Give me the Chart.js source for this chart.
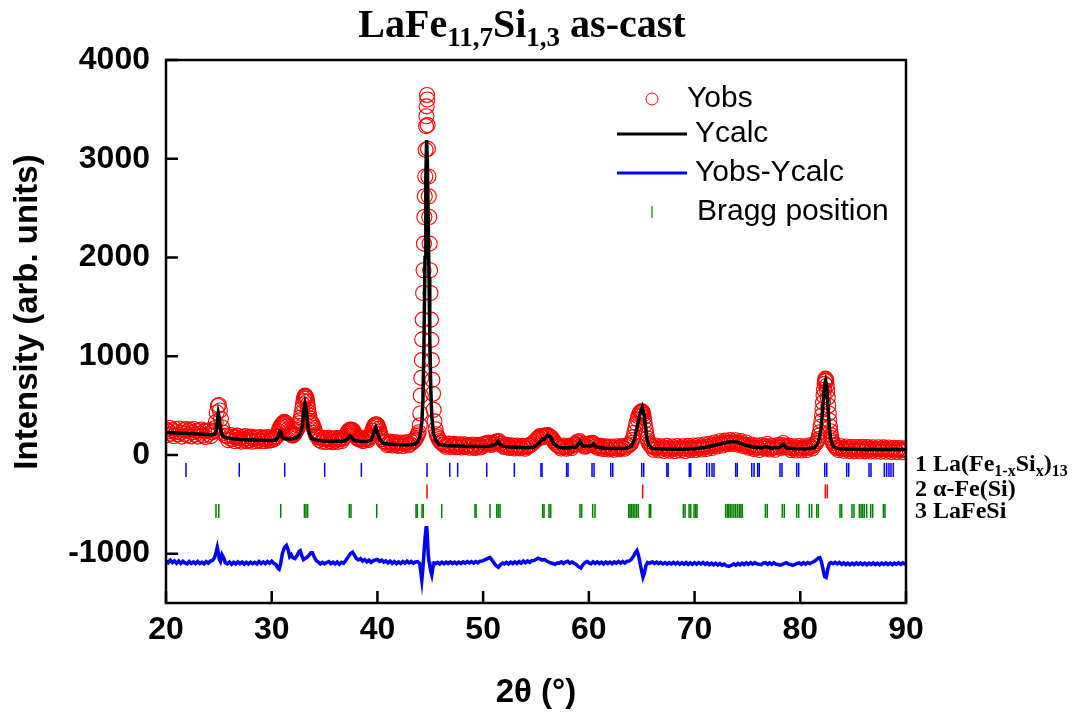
<!DOCTYPE html>
<html>
<head>
<meta charset="utf-8">
<title>LaFe11,7Si1,3 as-cast</title>
<script src="https://cdn.jsdelivr.net/npm/chart.js@4.4.1/dist/chart.umd.min.js"></script>
<style>
  html, body { margin: 0; padding: 0; background: #fff; }
  canvas { display: block; }
</style>
</head>
<body>
<canvas id="xrdChart" width="1083" height="713"></canvas>
<script>
// axis ticks
const xTicks = [20, 30, 40, 50, 60, 70, 80, 90];
const yTicks = [-1000, 0, 1000, 2000, 3000, 4000];

// observed intensity, [2theta, counts]
const yObs = [
  [20.0, 255], [20.125, 200], [20.25, 238], [20.375, 272], [20.5, 215], [20.625, 250], [20.75, 190], [20.875, 262],
  [21.0, 232], [21.125, 205], [21.25, 268], [21.375, 225], [21.5, 185], [21.625, 250], [21.75, 214], [21.875, 262],
  [22.0, 198], [22.125, 240], [22.25, 258], [22.375, 188], [22.5, 230], [22.625, 262], [22.75, 205], [22.875, 242],
  [23.0, 185], [23.125, 250], [23.25, 215], [23.375, 258], [23.5, 195], [23.625, 238], [23.75, 182], [23.875, 245],
  [24.0, 210], [24.125, 250], [24.25, 190], [24.375, 228], [24.5, 245], [24.6, 270], [24.7, 330], [24.8, 430],
  [24.9, 495], [25.0, 505], [25.1, 450], [25.2, 365], [25.3, 280], [25.45, 225], [25.6, 195], [25.75, 190],
  [25.875, 150], [26.0, 172], [26.125, 200], [26.25, 158], [26.375, 185], [26.5, 140], [26.625, 178], [26.75, 195],
  [26.875, 150], [27.0, 168], [27.125, 135], [27.25, 182], [27.375, 155], [27.5, 190], [27.625, 140], [27.75, 170],
  [27.875, 150], [28.0, 185], [28.125, 135], [28.25, 165], [28.375, 178], [28.5, 140], [28.625, 172], [28.75, 150],
  [28.875, 180], [29.0, 138], [29.125, 165], [29.25, 175], [29.375, 140], [29.5, 160], [29.625, 182], [29.75, 145],
  [29.875, 170], [30.0, 150], [30.125, 175], [30.25, 160], [30.375, 185], [30.5, 190], [30.575, 215], [30.65, 240],
  [30.725, 265], [30.8, 280], [30.875, 295], [30.95, 300], [31.025, 315], [31.1, 320], [31.175, 335], [31.25, 330],
  [31.325, 325], [31.4, 310], [31.475, 290], [31.55, 260], [31.625, 240], [31.7, 220], [31.775, 210], [31.85, 200],
  [31.925, 215], [32.0, 195], [32.075, 205], [32.15, 210], [32.225, 230], [32.3, 240], [32.375, 255], [32.45, 270],
  [32.525, 295], [32.6, 320], [32.675, 350], [32.75, 380], [32.825, 425], [32.9, 470], [32.95, 510], [33.0, 545],
  [33.05, 570], [33.1, 590], [33.15, 600], [33.2, 597], [33.25, 585], [33.3, 570], [33.35, 540], [33.4, 510],
  [33.45, 470], [33.5, 430], [33.55, 400], [33.6, 370], [33.675, 345], [33.75, 330], [33.825, 315], [33.9, 300],
  [33.975, 275], [34.05, 250], [34.125, 225], [34.2, 200], [34.3, 185], [34.4, 175], [34.5, 150], [34.625, 175],
  [34.75, 135], [34.875, 160], [35.0, 170], [35.125, 130], [35.25, 155], [35.375, 175], [35.5, 138], [35.625, 160],
  [35.75, 128], [35.875, 165], [36.0, 145], [36.125, 172], [36.25, 132], [36.375, 158], [36.5, 170], [36.625, 140],
  [36.75, 165], [36.875, 180], [37.0, 195], [37.1, 215], [37.2, 230], [37.275, 245], [37.35, 250], [37.425, 258],
  [37.5, 255], [37.575, 255], [37.65, 250], [37.725, 240], [37.8, 225], [37.875, 210], [37.95, 195], [38.025, 180],
  [38.1, 170], [38.2, 160], [38.3, 155], [38.4, 172], [38.5, 165], [38.625, 140], [38.75, 145], [38.875, 170],
  [39.0, 160], [39.125, 150], [39.25, 175], [39.35, 195], [39.45, 220], [39.525, 245], [39.6, 270], [39.675, 290],
  [39.75, 300], [39.825, 308], [39.9, 311], [39.975, 305], [40.05, 290], [40.125, 265], [40.2, 240], [40.275, 210],
  [40.35, 180], [40.45, 160], [40.55, 140], [40.675, 130], [40.8, 125], [40.925, 100], [41.05, 110], [41.175, 135],
  [41.3, 122], [41.425, 95], [41.55, 105], [41.675, 130], [41.8, 118], [41.925, 92], [42.05, 100], [42.175, 125],
  [42.3, 115], [42.425, 90], [42.55, 108], [42.675, 128], [42.8, 120], [42.925, 95], [43.05, 110], [43.175, 135],
  [43.3, 125], [43.425, 140], [43.55, 150], [43.65, 170], [43.75, 190], [43.825, 210], [43.9, 230], [44.0, 300],
  [44.05, 420], [44.1, 600], [44.15, 780], [44.2, 960], [44.24, 1170], [44.28, 1370], [44.32, 1640], [44.36, 1870],
  [44.4, 2140], [44.44, 2410], [44.48, 2620], [44.52, 2820], [44.56, 3090], [44.6, 3330], [44.63, 3430], [44.66, 3530],
  [44.69, 3646], [44.72, 3600], [44.75, 3340], [44.78, 3100], [44.82, 2820], [44.86, 2620], [44.9, 2410], [44.94, 2140],
  [44.98, 1870], [45.02, 1640], [45.06, 1370], [45.1, 1165], [45.15, 960], [45.2, 760], [45.26, 620], [45.32, 456],
  [45.4, 340], [45.5, 260], [45.6, 210], [45.7, 180], [45.8, 160], [45.9, 140], [46.0, 128], [46.1, 120],
  [46.225, 108], [46.35, 105], [46.475, 82], [46.6, 92], [46.725, 115], [46.85, 110], [46.975, 80], [47.1, 90],
  [47.225, 112], [47.35, 100], [47.475, 78], [47.6, 85], [47.725, 108], [47.85, 105], [47.975, 75], [48.1, 90],
  [48.225, 108], [48.35, 80], [48.475, 95], [48.6, 98], [48.725, 72], [48.85, 85], [48.975, 105], [49.1, 95],
  [49.225, 70], [49.35, 80], [49.475, 102], [49.6, 92], [49.725, 75], [49.85, 85], [49.975, 108], [50.1, 100],
  [50.225, 118], [50.35, 110], [50.475, 125], [50.6, 120], [50.725, 100], [50.85, 105], [50.975, 122], [51.1, 115],
  [51.225, 135], [51.35, 130], [51.475, 140], [51.6, 110], [51.725, 118], [51.85, 95], [51.975, 80], [52.1, 85],
  [52.225, 102], [52.35, 95], [52.475, 70], [52.6, 78], [52.725, 98], [52.85, 88], [52.975, 65], [53.1, 75],
  [53.225, 95], [53.35, 85], [53.475, 66], [53.6, 72], [53.725, 92], [53.85, 82], [53.975, 62], [54.1, 78],
  [54.225, 95], [54.35, 90], [54.475, 100], [54.6, 110], [54.8, 130], [55.0, 150], [55.125, 165], [55.25, 175],
  [55.375, 192], [55.5, 190], [55.625, 178], [55.75, 185], [55.875, 198], [56.0, 195], [56.125, 200], [56.25, 190],
  [56.375, 182], [56.5, 170], [56.625, 150], [56.75, 130], [56.875, 112], [57.0, 100], [57.125, 92], [57.25, 85],
  [57.375, 65], [57.5, 78], [57.625, 95], [57.75, 88], [57.875, 62], [58.0, 75], [58.125, 92], [58.25, 85],
  [58.375, 70], [58.5, 95], [58.625, 105], [58.75, 110], [58.875, 130], [59.0, 125], [59.125, 140], [59.25, 120],
  [59.375, 105], [59.5, 100], [59.625, 82], [59.75, 90], [59.875, 108], [60.0, 100], [60.125, 118], [60.25, 110],
  [60.375, 122], [60.5, 105], [60.625, 85], [60.75, 90], [60.875, 70], [61.0, 80], [61.125, 92], [61.25, 72],
  [61.375, 60], [61.5, 80], [61.625, 88], [61.75, 70], [61.875, 55], [62.0, 78], [62.125, 85], [62.25, 68],
  [62.375, 52], [62.5, 75], [62.625, 88], [62.75, 70], [62.875, 58], [63.0, 78], [63.125, 90], [63.25, 72],
  [63.375, 62], [63.5, 82], [63.625, 98], [63.75, 95], [63.875, 105], [64.0, 120], [64.1, 150], [64.2, 180],
  [64.3, 225], [64.4, 270], [64.5, 320], [64.6, 360], [64.675, 390], [64.75, 410], [64.825, 425], [64.9, 435],
  [64.95, 440], [65.0, 442], [65.05, 438], [65.1, 430], [65.15, 410], [65.2, 380], [65.25, 340], [65.3, 300],
  [65.375, 255], [65.45, 210], [65.525, 170], [65.6, 140], [65.7, 115], [65.8, 100], [65.9, 90], [66.0, 80],
  [66.125, 52], [66.25, 70], [66.375, 95], [66.5, 78], [66.625, 45], [66.75, 65], [66.875, 88], [67.0, 72],
  [67.125, 40], [67.25, 62], [67.375, 92], [67.5, 70], [67.625, 42], [67.75, 60], [67.875, 85], [68.0, 68],
  [68.125, 38], [68.25, 62], [68.375, 90], [68.5, 72], [68.625, 45], [68.75, 64], [68.875, 88], [69.0, 70],
  [69.125, 40], [69.25, 62], [69.375, 92], [69.5, 72], [69.625, 48], [69.75, 66], [69.875, 95], [70.0, 74],
  [70.125, 50], [70.25, 68], [70.375, 98], [70.5, 78], [70.625, 55], [70.75, 75], [70.875, 105], [71.0, 85],
  [71.125, 60], [71.25, 82], [71.375, 112], [71.5, 92], [71.625, 70], [71.75, 98], [71.875, 125], [72.0, 105],
  [72.125, 85], [72.25, 110], [72.375, 138], [72.5, 115], [72.625, 95], [72.75, 120], [72.875, 145], [73.0, 125],
  [73.125, 108], [73.25, 122], [73.375, 150], [73.5, 128], [73.625, 110], [73.75, 125], [73.875, 148], [74.0, 122],
  [74.125, 102], [74.25, 118], [74.375, 140], [74.5, 110], [74.625, 90], [74.75, 100], [74.875, 125], [75.0, 95],
  [75.125, 72], [75.25, 85], [75.375, 105], [75.5, 80], [75.625, 60], [75.75, 75], [75.875, 95], [76.0, 72],
  [76.125, 50], [76.25, 78], [76.375, 100], [76.5, 85], [76.625, 65], [76.75, 90], [76.875, 110], [77.0, 78],
  [77.125, 55], [77.25, 70], [77.375, 92], [77.5, 75], [77.625, 52], [77.75, 80], [77.875, 100], [78.0, 88],
  [78.125, 70], [78.25, 100], [78.375, 120], [78.5, 95], [78.625, 75], [78.75, 80], [78.875, 95], [79.0, 72],
  [79.125, 48], [79.25, 66], [79.375, 88], [79.5, 72], [79.625, 45], [79.75, 65], [79.875, 90], [80.0, 70],
  [80.125, 45], [80.25, 64], [80.375, 88], [80.5, 70], [80.625, 50], [80.75, 75], [80.875, 98], [81.0, 80],
  [81.125, 65], [81.25, 95], [81.375, 110], [81.5, 120], [81.6, 140], [81.7, 160], [81.775, 195], [81.85, 230],
  [81.925, 285], [82.0, 340], [82.05, 400], [82.1, 460], [82.15, 530], [82.2, 600], [82.25, 660], [82.3, 720],
  [82.34, 750], [82.38, 773], [82.42, 765], [82.46, 750], [82.5, 700], [82.55, 650], [82.6, 580], [82.65, 500],
  [82.7, 420], [82.75, 350], [82.8, 290], [82.85, 240], [82.9, 200], [82.95, 170], [83.025, 140], [83.1, 120],
  [83.2, 100], [83.3, 90], [83.4, 70], [83.5, 78], [83.625, 50], [83.75, 70], [83.875, 88], [84.0, 62],
  [84.125, 42], [84.25, 70], [84.375, 85], [84.5, 60], [84.625, 40], [84.75, 66], [84.875, 82], [85.0, 58],
  [85.125, 38], [85.25, 65], [85.375, 80], [85.5, 60], [85.625, 40], [85.75, 68], [85.875, 82], [86.0, 58],
  [86.125, 36], [86.25, 64], [86.375, 80], [86.5, 56], [86.625, 35], [86.75, 62], [86.875, 78], [87.0, 55],
  [87.125, 34], [87.25, 63], [87.375, 78], [87.5, 57], [87.625, 33], [87.75, 62], [87.875, 76], [88.0, 55],
  [88.125, 32], [88.25, 60], [88.375, 75], [88.5, 52], [88.625, 30], [88.75, 58], [88.875, 72], [89.0, 50],
  [89.125, 28], [89.25, 56], [89.375, 70], [89.5, 48], [89.625, 28], [89.75, 54], [89.875, 68], [90.0, 50]
];

// calculated profile, [2theta, counts]
const yCalc = [
  [20.0, 226], [20.5, 224], [21.0, 222], [21.5, 220], [22.0, 218], [22.5, 215], [23.0, 212], [23.5, 209],
  [24.0, 206], [24.4, 205], [24.6, 212], [24.75, 245], [24.85, 330], [24.95, 420], [25.05, 370], [25.15, 270],
  [25.3, 200], [25.5, 180], [26.0, 168], [26.5, 160], [27.0, 156], [28.0, 151], [29.0, 148], [30.0, 146],
  [30.4, 150], [30.6, 180], [30.75, 240], [30.85, 235], [31.0, 180], [31.2, 163], [31.6, 160], [32.0, 165],
  [32.4, 178], [32.7, 210], [32.9, 300], [33.05, 460], [33.15, 522], [33.25, 470], [33.4, 320], [33.55, 220],
  [33.8, 165], [34.2, 150], [35.0, 142], [36.0, 138], [36.8, 138], [37.2, 160], [37.4, 192], [37.55, 180],
  [37.8, 148], [38.3, 136], [39.0, 135], [39.4, 150], [39.65, 220], [39.85, 277], [40.0, 230], [40.2, 160],
  [40.5, 120], [41.0, 110], [42.0, 103], [43.0, 100], [43.5, 108], [43.8, 130], [44.0, 180], [44.2, 330],
  [44.3, 550], [44.4, 1100], [44.5, 2000], [44.58, 2800], [44.65, 3190], [44.72, 3000], [44.8, 2400], [44.88, 1800],
  [44.95, 1200], [45.05, 650], [45.15, 380], [45.3, 220], [45.5, 150], [45.8, 110], [46.5, 95], [47.0, 92],
  [48.0, 88], [49.0, 86], [50.0, 84], [50.6, 88], [51.2, 105], [51.43, 140], [51.6, 105], [52.0, 85],
  [53.0, 78], [54.0, 72], [54.8, 78], [55.3, 120], [55.6, 165], [55.8, 160], [56.1, 200], [56.35, 185],
  [56.7, 110], [57.2, 75], [58.0, 70], [58.8, 80], [59.17, 135], [59.4, 90], [60.2, 90], [60.43, 112],
  [60.7, 80], [61.5, 68], [62.5, 66], [63.5, 68], [64.0, 85], [64.3, 150], [64.6, 300], [64.85, 422],
  [65.05, 483], [65.2, 420], [65.35, 300], [65.5, 160], [65.65, 100], [66.0, 65], [67.0, 60], [68.0, 58],
  [69.0, 58], [70.0, 62], [71.0, 75], [71.8, 95], [72.6, 115], [73.2, 130], [73.7, 135], [74.2, 125],
  [74.8, 100], [75.5, 80], [76.3, 70], [76.8, 85], [77.2, 68], [78.0, 75], [78.4, 108], [78.7, 70],
  [79.5, 62], [80.5, 60], [81.3, 72], [81.7, 120], [81.95, 260], [82.15, 520], [82.3, 710], [82.4, 753],
  [82.5, 700], [82.65, 420], [82.85, 170], [83.1, 90], [83.5, 65], [84.5, 58], [86.0, 56], [87.5, 55],
  [89.0, 55], [90.0, 56]
];

// difference curve (plotted with its offset), [2theta, counts]
const yDiff = [
  [20.0, -1075], [20.2, -1092], [20.4, -1066], [20.6, -1090], [20.8, -1074], [21.0, -1098], [21.2, -1076], [21.4, -1100],
  [21.6, -1078], [21.8, -1094], [22.0, -1104], [22.2, -1080], [22.4, -1100], [22.6, -1084], [22.8, -1102], [23.0, -1080],
  [23.2, -1100], [23.4, -1086], [23.6, -1104], [23.8, -1080], [24.0, -1096], [24.2, -1076], [24.4, -1070], [24.6, -1040],
  [24.75, -980], [24.85, -935], [24.95, -990], [25.05, -1060], [25.15, -1080], [25.3, -1010], [25.45, -1040], [25.6, -1090],
  [25.8, -1104], [26.0, -1086], [26.2, -1108], [26.4, -1088], [26.6, -1104], [26.8, -1084], [27.0, -1102], [27.2, -1086],
  [27.4, -1106], [27.6, -1088], [27.8, -1104], [28.0, -1086], [28.2, -1102], [28.4, -1088], [28.6, -1104], [28.8, -1080],
  [29.0, -1100], [29.2, -1084], [29.4, -1102], [29.6, -1080], [29.8, -1096], [30.0, -1076], [30.2, -1098], [30.4, -1110],
  [30.6, -1150], [30.7, -1158], [30.85, -1100], [31.0, -1000], [31.2, -940], [31.4, -918], [31.55, -960], [31.7, -1030],
  [31.85, -1010], [32.0, -1040], [32.2, -1050], [32.4, -1020], [32.6, -975], [32.7, -969], [32.85, -1020], [33.0, -1060],
  [33.15, -1050], [33.3, -1040], [33.5, -1020], [33.7, -990], [33.85, -990], [34.0, -1030], [34.2, -1070], [34.4, -1085],
  [34.6, -1104], [34.8, -1088], [35.0, -1104], [35.2, -1090], [35.4, -1080], [35.6, -1102], [35.8, -1086], [36.0, -1104],
  [36.2, -1084], [36.4, -1108], [36.6, -1088], [36.8, -1098], [37.0, -1070], [37.2, -1040], [37.45, -1000], [37.65, -986],
  [37.85, -1020], [38.0, -1050], [38.2, -1064], [38.4, -1050], [38.6, -1076], [38.8, -1060], [39.0, -1084], [39.2, -1066],
  [39.4, -1088], [39.6, -1072], [39.8, -1064], [40.0, -1058], [40.2, -1078], [40.4, -1066], [40.6, -1086], [40.8, -1074],
  [41.0, -1094], [41.2, -1076], [41.4, -1098], [41.6, -1080], [41.8, -1102], [42.0, -1084], [42.2, -1100], [42.4, -1080],
  [42.6, -1096], [42.8, -1076], [43.0, -1094], [43.2, -1080], [43.4, -1098], [43.6, -1084], [43.8, -1080], [44.0, -1100],
  [44.1, -1180], [44.2, -1266], [44.3, -1150], [44.4, -1000], [44.5, -850], [44.6, -740], [44.66, -720], [44.72, -820],
  [44.8, -1000], [44.88, -1080], [44.95, -1120], [45.05, -1180], [45.14, -1215], [45.25, -1140], [45.35, -1095], [45.5, -1100],
  [45.7, -1088], [45.9, -1104], [46.1, -1086], [46.3, -1102], [46.5, -1086], [46.7, -1100], [46.9, -1084], [47.1, -1100],
  [47.3, -1086], [47.5, -1102], [47.7, -1086], [47.9, -1100], [48.1, -1084], [48.3, -1096], [48.5, -1080], [48.7, -1094],
  [48.9, -1080], [49.1, -1096], [49.3, -1080], [49.5, -1094], [49.7, -1076], [49.9, -1075], [50.1, -1065], [50.3, -1055],
  [50.5, -1045], [50.65, -1040], [50.8, -1060], [51.0, -1090], [51.2, -1120], [51.45, -1138], [51.65, -1110], [51.85, -1095],
  [52.0, -1104], [52.2, -1088], [52.4, -1104], [52.6, -1086], [52.8, -1100], [53.0, -1084], [53.2, -1100], [53.4, -1080],
  [53.6, -1096], [53.8, -1076], [54.0, -1092], [54.2, -1074], [54.4, -1088], [54.6, -1072], [54.8, -1070], [55.0, -1060],
  [55.2, -1046], [55.4, -1055], [55.6, -1065], [55.8, -1060], [56.0, -1075], [56.2, -1085], [56.4, -1095], [56.6, -1100],
  [56.8, -1108], [57.0, -1095], [57.2, -1096], [57.4, -1084], [57.6, -1100], [57.8, -1086], [58.0, -1078], [58.2, -1096],
  [58.4, -1084], [58.6, -1098], [58.8, -1110], [59.0, -1130], [59.25, -1147], [59.45, -1110], [59.65, -1090], [59.85, -1080],
  [60.0, -1094], [60.2, -1102], [60.4, -1082], [60.6, -1100], [60.8, -1084], [61.0, -1100], [61.2, -1086], [61.4, -1104],
  [61.6, -1084], [61.8, -1100], [62.0, -1086], [62.2, -1102], [62.4, -1084], [62.6, -1098], [62.8, -1080], [63.0, -1096],
  [63.2, -1080], [63.4, -1096], [63.6, -1078], [63.8, -1075], [64.0, -1060], [64.2, -1030], [64.4, -990], [64.55, -969],
  [64.7, -1020], [64.85, -1100], [65.0, -1180], [65.12, -1239], [65.25, -1200], [65.4, -1120], [65.55, -1090], [65.75, -1098],
  [66.0, -1084], [66.2, -1100], [66.4, -1086], [66.6, -1102], [66.8, -1088], [67.0, -1104], [67.2, -1090], [67.4, -1106],
  [67.6, -1090], [67.8, -1104], [68.0, -1088], [68.2, -1104], [68.4, -1090], [68.6, -1108], [68.8, -1092], [69.0, -1106],
  [69.2, -1090], [69.4, -1110], [69.6, -1094], [69.8, -1108], [70.0, -1092], [70.2, -1106], [70.4, -1090], [70.6, -1104],
  [70.8, -1090], [71.0, -1108], [71.2, -1094], [71.4, -1112], [71.6, -1096], [71.8, -1114], [72.0, -1098], [72.2, -1116],
  [72.4, -1100], [72.6, -1118], [72.8, -1106], [73.0, -1122], [73.25, -1130], [73.5, -1118], [73.7, -1104], [73.9, -1118],
  [74.1, -1100], [74.3, -1114], [74.5, -1096], [74.7, -1110], [74.9, -1094], [75.1, -1108], [75.3, -1092], [75.5, -1106],
  [75.7, -1090], [75.9, -1104], [76.1, -1108], [76.3, -1112], [76.5, -1096], [76.7, -1092], [76.9, -1108], [77.1, -1094],
  [77.3, -1108], [77.5, -1092], [77.7, -1106], [77.9, -1110], [78.1, -1116], [78.3, -1108], [78.5, -1100], [78.7, -1092],
  [78.9, -1106], [79.1, -1110], [79.3, -1118], [79.5, -1110], [79.7, -1100], [79.9, -1094], [80.1, -1108], [80.3, -1092],
  [80.5, -1106], [80.7, -1090], [80.9, -1100], [81.1, -1090], [81.3, -1080], [81.5, -1065], [81.7, -1045], [81.85, -1040],
  [82.0, -1080], [82.15, -1160], [82.3, -1232], [82.45, -1240], [82.6, -1160], [82.75, -1100], [82.9, -1090], [83.1, -1102],
  [83.3, -1088], [83.5, -1104], [83.7, -1090], [83.9, -1108], [84.1, -1094], [84.3, -1110], [84.5, -1096], [84.7, -1112],
  [84.9, -1096], [85.1, -1110], [85.3, -1094], [85.5, -1108], [85.7, -1093], [85.9, -1110], [86.1, -1096], [86.3, -1112],
  [86.5, -1096], [86.7, -1110], [86.9, -1094], [87.1, -1110], [87.3, -1096], [87.5, -1112], [87.7, -1096], [87.9, -1109],
  [88.1, -1094], [88.3, -1110], [88.5, -1096], [88.7, -1112], [88.9, -1096], [89.1, -1108], [89.3, -1092], [89.5, -1108],
  [89.7, -1094], [89.9, -1106], [90.0, -1100]
];

// Bragg reflections (2theta) of the three phases
const braggPhase1 = [21.89, 26.93, 31.23, 35.01, 38.48, 44.69, 46.84, 47.59, 50.34, 52.95, 55.47, 55.57, 57.9, 58.03,
  60.3, 60.49, 62.07, 62.26, 65.0, 65.19, 67.38, 67.5, 69.5, 69.64, 71.15, 71.4, 71.65, 71.84, 73.89, 74.04,
  75.41, 75.63, 75.97, 76.12, 78.08, 78.27, 79.66, 79.85, 82.31, 82.5, 84.39, 84.58, 86.5, 86.69, 87.95, 88.17,
  88.39, 88.58, 88.8];
const braggPhase2 = [44.69, 65.09, 82.37, 82.56];
const braggPhase3 = [24.73, 24.99, 30.85, 33.09, 33.24, 33.4, 37.34, 37.5, 39.93, 43.65, 43.77, 44.22, 44.34, 46.08,
  49.23, 49.33, 50.65, 51.28, 51.43, 51.6, 55.63, 55.76, 56.23, 56.39, 59.16, 59.32, 60.36, 60.58, 63.77, 63.9,
  64.05, 64.2, 64.36, 64.52, 64.68, 65.72, 65.85, 68.94, 69.1, 69.48, 69.64, 69.95, 70.11, 70.23, 72.94, 73.1,
  73.23, 73.38, 73.54, 73.72, 73.89, 74.06, 74.23, 74.38, 74.52, 76.7, 76.88, 78.3, 78.49, 79.66, 79.85, 80.86,
  81.08, 81.55, 81.71, 83.76, 83.91, 84.89, 85.08, 85.59, 85.75, 85.9, 86.06, 86.28, 86.66, 86.85, 87.86, 88.01];
const braggRows = [-152, -370, -567];
const phaseNames = [
  [["1 La(Fe"], ["1-x", 1], ["Si"], ["x", 1], [")"], ["13", 1]],
  [["2 \u03b1-Fe(Si)"]],
  [["3 LaFeSi"]]
];

const SANS = "'Liberation Sans', Arial, sans-serif";
const SERIF = "'Liberation Serif', 'Times New Roman', serif";

const toXY = arr => arr.map(p => ({ x: p[0], y: p[1] }));
const braggSet = (list, row, color) => ({
  data: list.map(v => ({ x: v, y: braggRows[row] })),
  showLine: false,
  pointStyle: "line",
  pointRotation: 90,
  pointRadius: 7,
  pointBorderWidth: 1.5,
  pointBorderColor: color,
  order: 1
});

// text with subscripts, parts = [[text, isSub], ...]
function drawRich(ctx, parts, x, y, size, family, align) {
  const subSize = Math.round(size * 0.68);
  const fontFor = p => "bold " + (p[1] ? subSize : size) + "px " + family;
  let w = 0;
  parts.forEach(p => { ctx.font = fontFor(p); w += ctx.measureText(p[0]).width; });
  let cx = align === "center" ? x - w / 2 : x;
  ctx.textAlign = "left";
  ctx.textBaseline = "alphabetic";
  parts.forEach(p => {
    ctx.font = fontFor(p);
    ctx.fillText(p[0], cx, p[1] ? y + size * 0.22 : y);
    cx += ctx.measureText(p[0]).width;
  });
}

const decorations = {
  id: "decorations",
  afterDatasetsDraw(chart) {
    const { ctx, chartArea: a, scales } = chart;
    ctx.save();
    ctx.strokeStyle = "#000";
    ctx.lineWidth = 2.5;
    ctx.strokeRect(a.left, a.top, a.right - a.left, a.bottom - a.top);
    ctx.beginPath();
    xTicks.forEach(v => {
      const px = scales.x.getPixelForValue(v);
      ctx.moveTo(px, a.bottom);
      ctx.lineTo(px, a.bottom - 12);
    });
    yTicks.forEach(v => {
      const py = scales.y.getPixelForValue(v);
      ctx.moveTo(a.left, py);
      ctx.lineTo(a.left + 12, py);
    });
    ctx.stroke();
    ctx.restore();
  },
  afterDraw(chart) {
    const { ctx, chartArea: a } = chart;
    ctx.save();
    ctx.fillStyle = "#000";

    // title
    drawRich(ctx, [["LaFe"], ["11,7", 1], ["Si"], ["1,3", 1], [" as-cast"]], 522, 37, 40, SERIF, "center");

    // axis titles
    ctx.font = "bold 33px " + SANS;
    ctx.textAlign = "center";
    ctx.textBaseline = "middle";
    ctx.fillText("2\u03b8 (\u00b0)", (a.left + a.right) / 2, 693);
    ctx.save();
    ctx.translate(28, 312);
    ctx.rotate(-Math.PI / 2);
    ctx.fillText("Intensity (arb. units)", 0, 0);
    ctx.restore();

    // phase labels at the right
    phaseNames.forEach((parts, i) => {
      drawRich(ctx, parts, a.right + 9, [471, 496, 518][i], 24, SERIF, "left");
    });

    // legend
    ctx.font = "30px " + SANS;
    ctx.textAlign = "left";
    ctx.textBaseline = "middle";
    ctx.lineWidth = 1;
    ctx.strokeStyle = "#ff0000";
    ctx.beginPath();
    ctx.arc(652, 99, 6, 0, Math.PI * 2);
    ctx.stroke();
    ctx.fillText("Yobs", 687, 99);

    ctx.lineWidth = 3;
    ctx.strokeStyle = "#000";
    ctx.beginPath();
    ctx.moveTo(617, 134);
    ctx.lineTo(687, 134);
    ctx.stroke();
    ctx.fillText("Ycalc", 695, 134);

    ctx.strokeStyle = "#0000ff";
    ctx.beginPath();
    ctx.moveTo(617, 173);
    ctx.lineTo(687, 173);
    ctx.stroke();
    ctx.fillText("Yobs-Ycalc", 695, 173);

    ctx.lineWidth = 1.2;
    ctx.strokeStyle = "#008000";
    ctx.beginPath();
    ctx.moveTo(652, 206);
    ctx.lineTo(652, 218);
    ctx.stroke();
    ctx.fillText("Bragg position", 697, 212);
    ctx.restore();
  }
};

new Chart(document.getElementById("xrdChart"), {
  type: "scatter",
  data: {
    datasets: [
      {
        label: "Yobs",
        data: toXY(yObs),
        showLine: false,
        pointStyle: "circle",
        pointRadius: 7.5,
        pointBorderWidth: 1.1,
        pointBorderColor: "#ff0000",
        pointBackgroundColor: "rgba(0,0,0,0)",
        order: 5
      },
      {
        label: "Ycalc",
        data: toXY(yCalc),
        showLine: true,
        borderColor: "#000",
        borderWidth: 3.5,
        pointRadius: 0,
        order: 4
      },
      {
        label: "Yobs-Ycalc",
        data: toXY(yDiff),
        showLine: true,
        borderColor: "#0000ff",
        borderWidth: 3.5,
        pointRadius: 0,
        order: 3
      },
      braggSet(braggPhase1, 0, "#0000ff"),
      braggSet(braggPhase2, 1, "#ff0000"),
      braggSet(braggPhase3, 2, "#008000")
    ]
  },
  options: {
    responsive: false,
    animation: false,
    events: [],
    layout: { padding: { top: 60, right: 177, bottom: 0, left: 0 } },
    plugins: {
      legend: { display: false },
      tooltip: { enabled: false }
    },
    scales: {
      x: {
        type: "linear",
        min: 20,
        max: 90,
        afterBuildTicks: s => { s.ticks = xTicks.map(v => ({ value: v })); },
        afterFit: s => { s.height = 110; },
        grid: { display: false, drawTicks: false },
        border: { display: false },
        ticks: {
          color: "#000",
          padding: 8,
          maxRotation: 0,
          autoSkip: false,
          font: { family: SANS, size: 32, weight: "bold" }
        }
      },
      y: {
        type: "linear",
        min: -1500,
        max: 4000,
        afterBuildTicks: s => { s.ticks = yTicks.map(v => ({ value: v })); },
        afterFit: s => { s.width = 166; },
        grid: { display: false, drawTicks: false },
        border: { display: false },
        ticks: {
          color: "#000",
          padding: 16,
          autoSkip: false,
          callback: v => String(v),
          font: { family: SANS, size: 32, weight: "bold" }
        }
      }
    }
  },
  plugins: [decorations]
});
</script>
</body>
</html>
